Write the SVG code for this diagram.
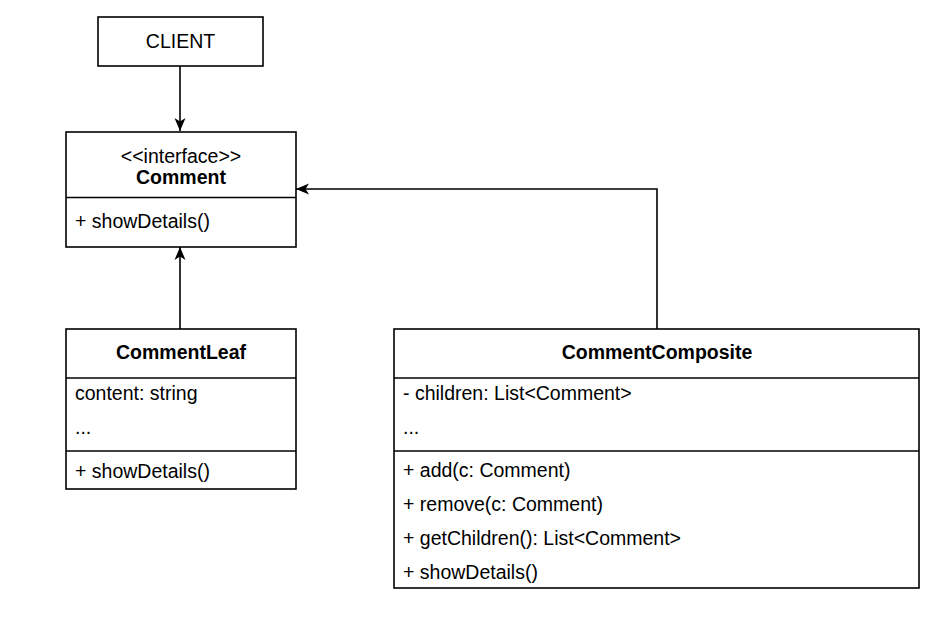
<svg xmlns="http://www.w3.org/2000/svg" width="938" height="624" viewBox="0 0 938 624">
<style>
.box{fill:#fff;stroke:#000;stroke-width:1.6}
.div{stroke:#000;stroke-width:1.6}
.t{font-family:"Liberation Sans",Arial,sans-serif;font-size:19.5px;fill:#000}
.b{font-weight:bold}
.c{text-anchor:middle}
.edge{fill:none;stroke:#000;stroke-width:1.6}
</style>
<defs>
<marker id="arr" viewBox="0 0 14 12" refX="13" refY="6" markerWidth="14" markerHeight="12" markerUnits="userSpaceOnUse" orient="auto">
<path d="M13,6 L0,0.5 L3.5,6 L0,11.5 Z" fill="#000"/>
</marker>
</defs>
<rect width="938" height="624" fill="#fff"/>
<g id="connectors">
<path class="edge" d="M180,66 V131" marker-end="url(#arr)"/>
<path class="edge" d="M180,329 V247" marker-end="url(#arr)"/>
<path class="edge" d="M657,329 V189 H296" marker-end="url(#arr)"/>
</g>
<g id="client">
<rect class="box" x="98" y="17" width="165" height="49"/>
<text class="t c" x="180.5" y="48">CLIENT</text>
</g>
<g id="comment">
<rect class="box" x="66" y="132" width="230" height="115"/>
<line class="div" x1="66" y1="197.5" x2="296" y2="197.5"/>
<text class="t c" x="181" y="163">&lt;&lt;interface&gt;&gt;</text>
<text class="t c b" x="181" y="184">Comment</text>
<text class="t" x="75" y="228">+ showDetails()</text>
</g>
<g id="commentLeaf">
<rect class="box" x="66" y="329" width="230" height="160"/>
<line class="div" x1="66" y1="378" x2="296" y2="378"/>
<line class="div" x1="66" y1="451" x2="296" y2="451"/>
<text class="t c b" x="181" y="359">CommentLeaf</text>
<text class="t" x="75" y="400">content: string</text>
<text class="t" x="75" y="434">...</text>
<text class="t" x="75" y="478">+ showDetails()</text>
</g>
<g id="commentComposite">
<rect class="box" x="394" y="329" width="525" height="259"/>
<line class="div" x1="394" y1="378" x2="919" y2="378"/>
<line class="div" x1="394" y1="451" x2="919" y2="451"/>
<text class="t c b" x="657" y="359">CommentComposite</text>
<text class="t" x="403" y="400">- children: List&lt;Comment&gt;</text>
<text class="t" x="403" y="434">...</text>
<text class="t" x="403" y="477">+ add(c: Comment)</text>
<text class="t" x="403" y="511">+ remove(c: Comment)</text>
<text class="t" x="403" y="545">+ getChildren(): List&lt;Comment&gt;</text>
<text class="t" x="403" y="579">+ showDetails()</text>
</g>
</svg>
